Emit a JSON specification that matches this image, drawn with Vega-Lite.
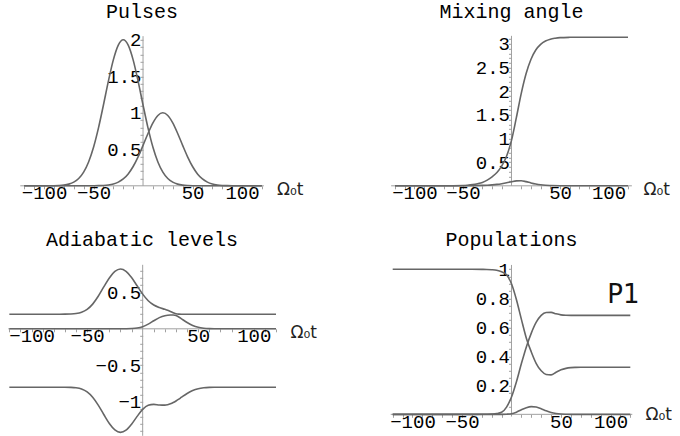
{
  "$schema": "https://vega.github.io/schema/vega-lite/v6.json",
  "background": "white",
  "padding": {"left": 6, "top": 0.8, "right": 0, "bottom": 0},
  "columns": 2,
  "bounds": "flush",
  "align": "each",
  "spacing": {"row": 79, "column": 116},
  "concat": [
    {
      "width": 268, "height": 150,
      "title": {"text": "Pulses", "offset": 9.2},
      "encoding": {
        "x": {"field": "t", "type": "quantitative", "scale": {"domain": [-136.4, 134.3], "nice": false, "zero": false},
          "axis": {"orient": "bottom", "offset": 0, "values": [-120,-110,-100,-90,-80,-70,-60,-50,-40,-30,-20,-10,10,20,30,40,50,60,70,80,90,100,110,120], "format": "d",
            "labelExpr": "abs(datum.value) == 50 || abs(datum.value) == 100 ? datum.label : ''",
            "title": "Ω₀t", "titleX": 268.5, "titleY": 9, "titleAlign": "left", "titleBaseline": "alphabetic", "titleAngle": 0}},
        "y": {"field": "v", "type": "quantitative", "scale": {"domain": [0, 2.055], "nice": false, "zero": false},
          "axis": {"orient": "left", "offset": -135, "values": [0.1,0.2,0.3,0.4,0.5,0.6,0.7,0.8,0.9,1,1.1,1.2,1.3,1.4,1.5,1.6,1.7,1.8,1.9,2], "format": "~g",
            "labelExpr": "indexof([0.5,1,1.5,2], datum.value) >= 0 ? datum.label : ''", "title": null}}
      },
      "layer": [
        {
          "data": {"values": [{"t": -124, "t2": 122, "v": 0, "v2": 0}, {"t": 0, "t2": 0, "v": 0, "v2": 2.05}]},
          "mark": {"type": "rule", "color": "#a0a0a0", "strokeWidth": 1},
          "encoding": {"x2": {"field": "t2"}, "y2": {"field": "v2"}}
        },
        {
          "data": {"values": [
            {"s":"a","t":-120,"v":0},{"s":"a","t":-100,"v":0},{"s":"a","t":-90,"v":0.0014},{"s":"a","t":-85,"v":0.0039},{"s":"a","t":-80,"v":0.0097},{"s":"a","t":-75,"v":0.0228},{"s":"a","t":-70,"v":0.0496},{"s":"a","t":-65,"v":0.1},{"s":"a","t":-60,"v":0.1876},{"s":"a","t":-55,"v":0.3266},{"s":"a","t":-50,"v":0.5282},{"s":"a","t":-45,"v":0.7934},{"s":"a","t":-40,"v":1.1068},{"s":"a","t":-35,"v":1.4338},{"s":"a","t":-30,"v":1.725},{"s":"a","t":-25,"v":1.9272},{"s":"a","t":-20,"v":2},{"s":"a","t":-15,"v":1.9272},{"s":"a","t":-10,"v":1.725},{"s":"a","t":-5,"v":1.4338},{"s":"a","t":0,"v":1.1068},{"s":"a","t":5,"v":0.7934},{"s":"a","t":10,"v":0.5282},{"s":"a","t":15,"v":0.3266},{"s":"a","t":20,"v":0.1876},{"s":"a","t":25,"v":0.1},{"s":"a","t":30,"v":0.0496},{"s":"a","t":35,"v":0.0228},{"s":"a","t":40,"v":0.0097},{"s":"a","t":45,"v":0.0039},{"s":"a","t":50,"v":0.0014},{"s":"a","t":60,"v":0},{"s":"a","t":80,"v":0},{"s":"a","t":100,"v":0},{"s":"a","t":120,"v":0},
            {"s":"b","t":-120,"v":0},{"s":"b","t":-100,"v":0},{"s":"b","t":-80,"v":0},{"s":"b","t":-60,"v":0.0001},{"s":"b","t":-55,"v":0.0002},{"s":"b","t":-50,"v":0.0007},{"s":"b","t":-45,"v":0.0019},{"s":"b","t":-40,"v":0.0049},{"s":"b","t":-35,"v":0.0114},{"s":"b","t":-30,"v":0.0248},{"s":"b","t":-25,"v":0.05},{"s":"b","t":-20,"v":0.0938},{"s":"b","t":-15,"v":0.1633},{"s":"b","t":-10,"v":0.2641},{"s":"b","t":-5,"v":0.3967},{"s":"b","t":0,"v":0.5534},{"s":"b","t":5,"v":0.7169},{"s":"b","t":10,"v":0.8625},{"s":"b","t":15,"v":0.9636},{"s":"b","t":20,"v":1},{"s":"b","t":25,"v":0.9636},{"s":"b","t":30,"v":0.8625},{"s":"b","t":35,"v":0.7169},{"s":"b","t":40,"v":0.5534},{"s":"b","t":45,"v":0.3967},{"s":"b","t":50,"v":0.2641},{"s":"b","t":55,"v":0.1633},{"s":"b","t":60,"v":0.0938},{"s":"b","t":65,"v":0.05},{"s":"b","t":70,"v":0.0248},{"s":"b","t":75,"v":0.0114},{"s":"b","t":80,"v":0.0049},{"s":"b","t":85,"v":0.0019},{"s":"b","t":90,"v":0.0007},{"s":"b","t":100,"v":0.0001},{"s":"b","t":120,"v":0}
          ]},
          "mark": {"type": "line", "interpolate": "monotone"},
          "encoding": {
            "color": {"field": "s", "type": "nominal", "scale": {"domain": ["a", "b"], "range": ["#666666", "#666666"]}, "legend": null},
            "strokeWidth": {"field": "s", "type": "nominal", "scale": {"type": "ordinal", "domain": ["a", "b"], "range": [1.6, 1.6]}, "legend": null}
          }
        }
      ]
    },
    {
      "width": 239, "height": 150,
      "title": {"text": "Mixing angle", "offset": 8.5},
      "encoding": {
        "x": {"field": "t", "type": "quantitative", "scale": {"domain": [-123.1, 123.1], "nice": false, "zero": false},
          "axis": {"orient": "bottom", "offset": 0, "values": [-120,-110,-100,-90,-80,-70,-60,-50,-40,-30,-20,-10,10,20,30,40,50,60,70,80,90,100,110,120], "format": "d",
            "labelExpr": "abs(datum.value) == 50 || abs(datum.value) == 100 ? datum.label : ''",
            "title": "Ω₀t", "titleX": 251, "titleY": 9, "titleAlign": "left", "titleBaseline": "alphabetic", "titleAngle": 0}},
        "y": {"field": "v", "type": "quantitative", "scale": {"domain": [0, 3.171], "nice": false, "zero": false},
          "axis": {"orient": "left", "offset": -119.5, "values": [0.1,0.2,0.3,0.4,0.5,0.6,0.7,0.8,0.9,1,1.1,1.2,1.3,1.4,1.5,1.6,1.7,1.8,1.9,2,2.1,2.2,2.3,2.4,2.5,2.6,2.7,2.8,2.9,3,3.1], "format": "~g",
            "labelExpr": "indexof([0.5,1,1.5,2,2.5,3], datum.value) >= 0 ? datum.label : ''", "title": null}}
      },
      "layer": [
        {
          "data": {"values": [{"t": -124, "t2": 124, "v": 0, "v2": 0}, {"t": 0, "t2": 0, "v": 0, "v2": 3.17}]},
          "mark": {"type": "rule", "color": "#a0a0a0", "strokeWidth": 1},
          "encoding": {"x2": {"field": "t2"}, "y2": {"field": "v2"}}
        },
        {
          "data": {"values": [
            {"s":"th","t":-120,"v":0},{"s":"th","t":-100,"v":0},{"s":"th","t":-80,"v":0.0002},{"s":"th","t":-70,"v":0.0006},{"s":"th","t":-60,"v":0.0015},{"s":"th","t":-50,"v":0.005},{"s":"th","t":-45,"v":0.012},{"s":"th","t":-40,"v":0.025},{"s":"th","t":-35,"v":0.045},{"s":"th","t":-30,"v":0.072},{"s":"th","t":-25,"v":0.12},{"s":"th","t":-20,"v":0.19},{"s":"th","t":-15,"v":0.28},{"s":"th","t":-10,"v":0.42},{"s":"th","t":-5,"v":0.63},{"s":"th","t":0,"v":0.96},{"s":"th","t":5,"v":1.44},{"s":"th","t":10,"v":1.95},{"s":"th","t":15,"v":2.37},{"s":"th","t":20,"v":2.67},{"s":"th","t":25,"v":2.87},{"s":"th","t":30,"v":2.99},{"s":"th","t":35,"v":3.06},{"s":"th","t":40,"v":3.1},{"s":"th","t":45,"v":3.12},{"s":"th","t":50,"v":3.132},{"s":"th","t":60,"v":3.139},{"s":"th","t":70,"v":3.141},{"s":"th","t":80,"v":3.1415},{"s":"th","t":100,"v":3.1416},{"s":"th","t":120,"v":3.1416},
            {"s":"d","t":-120,"v":0},{"s":"d","t":-80,"v":0},{"s":"d","t":-60,"v":0.0005},{"s":"d","t":-50,"v":0.0015},{"s":"d","t":-40,"v":0.004},{"s":"d","t":-30,"v":0.009},{"s":"d","t":-25,"v":0.013},{"s":"d","t":-20,"v":0.02},{"s":"d","t":-15,"v":0.03},{"s":"d","t":-10,"v":0.045},{"s":"d","t":-5,"v":0.064},{"s":"d","t":0,"v":0.087},{"s":"d","t":5,"v":0.105},{"s":"d","t":10,"v":0.107},{"s":"d","t":15,"v":0.088},{"s":"d","t":20,"v":0.06},{"s":"d","t":25,"v":0.037},{"s":"d","t":30,"v":0.021},{"s":"d","t":35,"v":0.011},{"s":"d","t":40,"v":0.006},{"s":"d","t":50,"v":0.0015},{"s":"d","t":60,"v":0.0003},{"s":"d","t":80,"v":0},{"s":"d","t":120,"v":0}
          ]},
          "mark": {"type": "line", "interpolate": "monotone"},
          "encoding": {
            "color": {"field": "s", "type": "nominal", "scale": {"domain": ["th", "d"], "range": ["#3a3a3a", "#8a8a8a"]}, "legend": null},
            "strokeWidth": {"field": "s", "type": "nominal", "scale": {"type": "ordinal", "domain": ["th", "d"], "range": [1.6, 1.3]}, "legend": null}
          }
        }
      ]
    },
    {
      "width": 268, "height": 171,
      "title": {"text": "Adiabatic levels", "offset": 11.4},
      "encoding": {
        "x": {"field": "t", "type": "quantitative", "scale": {"domain": [-121.2, 120.0], "nice": false, "zero": false},
          "axis": {"orient": "bottom", "offset": -107, "values": [-120,-110,-100,-90,-80,-70,-60,-50,-40,-30,-20,-10,10,20,30,40,50,60,70,80,90,100,110,120], "format": "d",
            "labelExpr": "abs(datum.value) == 50 || abs(datum.value) == 100 ? datum.label : ''",
            "title": "Ω₀t", "titleX": 282, "titleY": 9, "titleAlign": "left", "titleBaseline": "alphabetic", "titleAngle": 0}},
        "y": {"field": "v", "type": "quantitative", "scale": {"domain": [-1.466, 0.877], "nice": false, "zero": false},
          "axis": {"orient": "left", "offset": -134.7, "values": [-1.4,-1.3,-1.2,-1.1,-1,-0.9,-0.8,-0.7,-0.6,-0.5,-0.4,-0.3,-0.2,-0.1,0.1,0.2,0.3,0.4,0.5,0.6,0.7,0.8], "format": "~g",
            "labelExpr": "indexof([0.5,-0.5,-1], datum.value) >= 0 ? datum.label : ''", "title": null}}
      },
      "layer": [
        {
          "data": {"values": [{"t": -121, "t2": 120, "v": 0, "v2": 0}, {"t": 0, "t2": 0, "v": -1.466, "v2": 0.877}]},
          "mark": {"type": "rule", "color": "#a0a0a0", "strokeWidth": 1},
          "encoding": {"x2": {"field": "t2"}, "y2": {"field": "v2"}}
        },
        {
          "data": {"values": [
            {"s":"u","t":-120,"v":0.2},{"s":"u","t":-100,"v":0.2},{"s":"u","t":-80,"v":0.2001},{"s":"u","t":-75,"v":0.2002},{"s":"u","t":-70,"v":0.2006},{"s":"u","t":-65,"v":0.2025},{"s":"u","t":-60,"v":0.2087},{"s":"u","t":-55,"v":0.226},{"s":"u","t":-50,"v":0.2655},{"s":"u","t":-45,"v":0.3383},{"s":"u","t":-40,"v":0.4458},{"s":"u","t":-35,"v":0.574},{"s":"u","t":-30,"v":0.697},{"s":"u","t":-25,"v":0.7856},{"s":"u","t":-20,"v":0.8189},{"s":"u","t":-15,"v":0.788},{"s":"u","t":-10,"v":0.703},{"s":"u","t":-5,"v":0.589},{"s":"u","t":0,"v":0.475},{"s":"u","t":5,"v":0.385},{"s":"u","t":10,"v":0.326},{"s":"u","t":15,"v":0.291},{"s":"u","t":20,"v":0.267},{"s":"u","t":22.5,"v":0.2538},{"s":"u","t":25,"v":0.238},{"s":"u","t":27.5,"v":0.2206},{"s":"u","t":30,"v":0.2058},{"s":"u","t":32.5,"v":0.2013},{"s":"u","t":35,"v":0.2004},{"s":"u","t":40,"v":0.2001},{"s":"u","t":50,"v":0.2},{"s":"u","t":120,"v":0.2},
            {"s":"m","t":-120,"v":0},{"s":"m","t":-40,"v":0},{"s":"m","t":-30,"v":0.00003},{"s":"m","t":-25,"v":0.0001},{"s":"m","t":-20,"v":0.0004},{"s":"m","t":-15,"v":0.0012},{"s":"m","t":-10,"v":0.0038},{"s":"m","t":-5,"v":0.0111},{"s":"m","t":0,"v":0.0292},{"s":"m","t":5,"v":0.0637},{"s":"m","t":10,"v":0.1102},{"s":"m","t":15,"v":0.1529},{"s":"m","t":20,"v":0.179},{"s":"m","t":22.5,"v":0.1858},{"s":"m","t":25,"v":0.1895},{"s":"m","t":27.5,"v":0.1899},{"s":"m","t":30,"v":0.1827},{"s":"m","t":32.5,"v":0.1623},{"s":"m","t":35,"v":0.1368},{"s":"m","t":40,"v":0.0864},{"s":"m","t":45,"v":0.0465},{"s":"m","t":50,"v":0.0212},{"s":"m","t":55,"v":0.0083},{"s":"m","t":60,"v":0.0027},{"s":"m","t":65,"v":0.0008},{"s":"m","t":70,"v":0.0002},{"s":"m","t":80,"v":0},{"s":"m","t":120,"v":0},
            {"s":"l","t":-120,"v":-0.8},{"s":"l","t":-100,"v":-0.8},{"s":"l","t":-80,"v":-0.8001},{"s":"l","t":-75,"v":-0.8002},{"s":"l","t":-70,"v":-0.8006},{"s":"l","t":-65,"v":-0.8025},{"s":"l","t":-60,"v":-0.8087},{"s":"l","t":-55,"v":-0.826},{"s":"l","t":-50,"v":-0.8655},{"s":"l","t":-45,"v":-0.9383},{"s":"l","t":-40,"v":-1.0458},{"s":"l","t":-35,"v":-1.174},{"s":"l","t":-30,"v":-1.297},{"s":"l","t":-25,"v":-1.3857},{"s":"l","t":-20,"v":-1.4193},{"s":"l","t":-15,"v":-1.3895},{"s":"l","t":-10,"v":-1.3069},{"s":"l","t":-5,"v":-1.1999},{"s":"l","t":0,"v":-1.1042},{"s":"l","t":5,"v":-1.0486},{"s":"l","t":10,"v":-1.036},{"s":"l","t":15,"v":-1.0438},{"s":"l","t":20,"v":-1.0461},{"s":"l","t":22.5,"v":-1.0396},{"s":"l","t":25,"v":-1.0276},{"s":"l","t":27.5,"v":-1.0106},{"s":"l","t":30,"v":-0.9885},{"s":"l","t":32.5,"v":-0.9636},{"s":"l","t":35,"v":-0.9371},{"s":"l","t":40,"v":-0.8864},{"s":"l","t":45,"v":-0.8465},{"s":"l","t":50,"v":-0.8212},{"s":"l","t":55,"v":-0.8083},{"s":"l","t":60,"v":-0.8027},{"s":"l","t":65,"v":-0.8008},{"s":"l","t":70,"v":-0.8002},{"s":"l","t":80,"v":-0.8},{"s":"l","t":120,"v":-0.8}
          ]},
          "mark": {"type": "line", "interpolate": "monotone"},
          "encoding": {
            "color": {"field": "s", "type": "nominal", "scale": {"domain": ["u", "m", "l"], "range": ["#1e1e1e", "#6a6a6a", "#1e1e1e"]}, "legend": null},
            "strokeWidth": {"field": "s", "type": "nominal", "scale": {"type": "ordinal", "domain": ["u", "m", "l"], "range": [2.8, 2.2, 2.8]}, "legend": null}
          }
        }
      ]
    },
    {
      "width": 239, "height": 171,
      "title": {"text": "Populations", "offset": 10.3},
      "encoding": {
        "x": {"field": "t", "type": "quantitative", "scale": {"domain": [-120.7, 120.7], "nice": false, "zero": false},
          "axis": {"orient": "bottom", "offset": -21.5, "values": [-120,-110,-100,-90,-80,-70,-60,-50,-40,-30,-20,-10,10,20,30,40,50,60,70,80,90,100,110,120], "format": "d",
            "labelExpr": "abs(datum.value) == 50 || abs(datum.value) == 100 ? datum.label : ''",
            "title": "Ω₀t", "titleX": 253, "titleY": 5.5, "titleAlign": "left", "titleBaseline": "alphabetic", "titleAngle": 0}},
        "y": {"field": "v", "type": "quantitative", "scale": {"domain": [-0.148, 1.031], "nice": false, "zero": false},
          "axis": {"orient": "left", "offset": -119.5, "values": [0.05,0.1,0.15,0.2,0.25,0.3,0.35,0.4,0.45,0.5,0.55,0.6,0.65,0.7,0.75,0.8,0.85,0.9,0.95,1], "format": "~g",
            "labelExpr": "indexof([0.2,0.4,0.6,0.8,1], datum.value) >= 0 ? datum.label : ''", "title": null}}
      },
      "layer": [
        {
          "data": {"values": [{"t": -122, "t2": 122, "v": 0, "v2": 0}, {"t": 0, "t2": 0, "v": -0.015, "v2": 1.03}]},
          "mark": {"type": "rule", "color": "#a0a0a0", "strokeWidth": 1},
          "encoding": {"x2": {"field": "t2"}, "y2": {"field": "v2"}}
        },
        {
          "data": {"values": [
            {"s":"a","t":-120,"v":1},{"s":"a","t":-40,"v":1},{"s":"a","t":-30,"v":0.9995},{"s":"a","t":-25,"v":0.999},{"s":"a","t":-20,"v":0.997},{"s":"a","t":-15,"v":0.993},{"s":"a","t":-10,"v":0.983},{"s":"a","t":-5,"v":0.962},{"s":"a","t":0,"v":0.9},{"s":"a","t":5,"v":0.79},{"s":"a","t":10,"v":0.655},{"s":"a","t":15,"v":0.525},{"s":"a","t":20,"v":0.43},{"s":"a","t":25,"v":0.35},{"s":"a","t":30,"v":0.3},{"s":"a","t":35,"v":0.275},{"s":"a","t":40,"v":0.272},{"s":"a","t":45,"v":0.29},{"s":"a","t":50,"v":0.307},{"s":"a","t":55,"v":0.317},{"s":"a","t":60,"v":0.322},{"s":"a","t":65,"v":0.324},{"s":"a","t":70,"v":0.325},{"s":"a","t":120,"v":0.325},
            {"s":"p1","t":-120,"v":0},{"s":"p1","t":-40,"v":0},{"s":"p1","t":-30,"v":0.0003},{"s":"p1","t":-25,"v":0.0008},{"s":"p1","t":-20,"v":0.002},{"s":"p1","t":-15,"v":0.005},{"s":"p1","t":-10,"v":0.014},{"s":"p1","t":-5,"v":0.05},{"s":"p1","t":0,"v":0.12},{"s":"p1","t":5,"v":0.225},{"s":"p1","t":10,"v":0.35},{"s":"p1","t":15,"v":0.465},{"s":"p1","t":20,"v":0.56},{"s":"p1","t":25,"v":0.635},{"s":"p1","t":30,"v":0.682},{"s":"p1","t":35,"v":0.702},{"s":"p1","t":40,"v":0.703},{"s":"p1","t":45,"v":0.693},{"s":"p1","t":50,"v":0.686},{"s":"p1","t":55,"v":0.683},{"s":"p1","t":60,"v":0.682},{"s":"p1","t":120,"v":0.682},
            {"s":"b","t":-120,"v":0},{"s":"b","t":-10,"v":0},{"s":"b","t":-5,"v":0.001},{"s":"b","t":0,"v":0.004},{"s":"b","t":5,"v":0.015},{"s":"b","t":10,"v":0.032},{"s":"b","t":15,"v":0.046},{"s":"b","t":20,"v":0.053},{"s":"b","t":25,"v":0.05},{"s":"b","t":30,"v":0.038},{"s":"b","t":35,"v":0.024},{"s":"b","t":40,"v":0.013},{"s":"b","t":45,"v":0.006},{"s":"b","t":50,"v":0.002},{"s":"b","t":55,"v":0.0005},{"s":"b","t":60,"v":0},{"s":"b","t":120,"v":0}
          ]},
          "mark": {"type": "line", "interpolate": "monotone"},
          "encoding": {
            "color": {"field": "s", "type": "nominal", "scale": {"domain": ["a", "p1", "b"], "range": ["#5a5a5a", "#505050", "#8a8a8a"]}, "legend": null},
            "strokeWidth": {"field": "s", "type": "nominal", "scale": {"type": "ordinal", "domain": ["a", "p1", "b"], "range": [1.8, 3, 1.4]}, "legend": null}
          }
        },
        {
          "data": {"values": [{"t": 113, "v": 0.77, "label": "P1"}]},
          "mark": {"type": "text", "font": "DejaVu Sans", "fontSize": 26, "align": "center", "baseline": "alphabetic", "color": "#111"},
          "encoding": {"text": {"field": "label"}}
        }
      ]
    }
  ],
  "config": {
    "view": {"stroke": null},
    "font": "Liberation Mono",
    "axis": {"grid": false, "domain": false, "tickColor": "#a0a0a0", "tickSize": 3, "tickWidth": 1,
      "labelFont": "Liberation Mono", "labelFontSize": 19, "labelColor": "#000",
      "labelOverlap": false, "labelFlush": false, "labelBound": false,
      "titleFont": "DejaVu Sans", "titleFontSize": 17, "titleFontWeight": "normal", "titleColor": "#222"},
    "axisX": {"labelPadding": -5},
    "axisY": {"labelPadding": -1},
    "title": {"font": "Liberation Mono", "fontSize": 20, "fontWeight": "normal", "color": "#000", "anchor": "middle", "baseline": "alphabetic", "frame": "group"}
  }
}
